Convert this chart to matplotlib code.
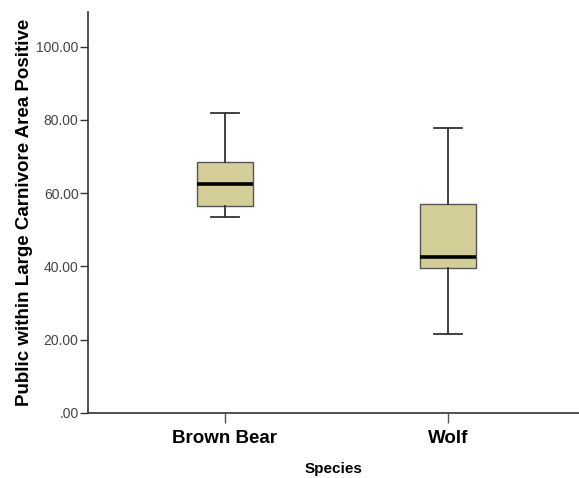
import matplotlib
matplotlib.use("Agg")
import matplotlib.pyplot as plt

# --------------------------------------------------
# Box plot summary values
# --------------------------------------------------
species = ["Brown Bear", "Wolf"]
whisker_low = [53.5, 21.7]
q1 = [56.4, 39.5]
median = [62.5, 42.6]
q3 = [68.4, 57.0]
whisker_high = [82.0, 77.7]

y_ticks = [0, 20, 40, 60, 80, 100]
y_tick_labels = [".00", "20.00", "40.00", "60.00", "80.00", "100.00"]

plt.rcParams["font.family"] = ["Liberation Sans", "DejaVu Sans"]

stats = []
for i, name in enumerate(species):
    stats.append({
        "label": name,
        "whislo": whisker_low[i],
        "q1": q1[i],
        "med": median[i],
        "q3": q3[i],
        "whishi": whisker_high[i],
        "fliers": [],
    })

# --------------------------------------------------
# Plot
# --------------------------------------------------
fig = plt.figure(figsize=(5.79, 4.78), dpi=100)
ax = fig.add_axes([0.1525, 0.136, 0.8475, 0.839])

ax.bxp(
    stats,
    positions=[1, 2],
    widths=0.25,
    capwidths=0.125,
    patch_artist=True,
    showfliers=False,
    boxprops=dict(facecolor="#D3CE97", edgecolor="#555555", linewidth=1.0),
    medianprops=dict(color="black", linewidth=2.6),
    whiskerprops=dict(color="#333333", linewidth=1.3),
    capprops=dict(color="#333333", linewidth=1.3),
)

ax.set_xlim(0.39, 2.584)
ax.set_ylim(0, 109.5)
ax.set_yticks(y_ticks)
ax.set_yticklabels(y_tick_labels, fontsize=10, color="#444444")
ax.set_xticks([1, 2])
ax.set_xticklabels(species, fontsize=13.5, fontweight="bold")

ax.set_xlabel("Species", fontsize=11, fontweight="bold", labelpad=11)
ax.set_ylabel("Public within Large Carnivore Area Positive",
              fontsize=13.5, fontweight="bold", labelpad=2)

for side in ["top", "right"]:
    ax.spines[side].set_visible(False)
for side in ["left", "bottom"]:
    ax.spines[side].set_color("#333333")
    ax.spines[side].set_linewidth(1.2)

ax.tick_params(axis="y", length=6, width=1.0, color="#333333", pad=1)
ax.tick_params(axis="x", length=7, width=1.0, color="#555555", pad=5)

fig.savefig("out.png", dpi=100)
